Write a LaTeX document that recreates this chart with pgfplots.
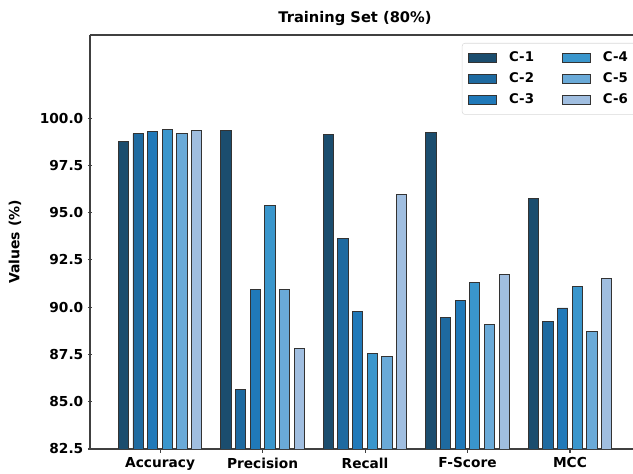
\documentclass[border=0pt]{standalone}
\usepackage{pgfplots}
\pgfplotsset{compat=1.18}
\usepackage{fontspec}
\setmainfont{DejaVu Sans}
\definecolor{c1}{HTML}{1B4D6E}
\definecolor{c2}{HTML}{1E6AA0}
\definecolor{c3}{HTML}{2079B9}
\definecolor{c4}{HTML}{3A96CC}
\definecolor{c5}{HTML}{6AAAD8}
\definecolor{c6}{HTML}{A0BEE0}
\definecolor{edge}{HTML}{333333}
\begin{document}
\begin{tikzpicture}[x=0.75pt,y=0.75pt]
\path[use as bounding box] (-90,-25) rectangle (543,449);
\begin{axis}[
  scale only axis,
  width=407.25pt, height=310.5pt,
  ybar,
  bar width=0.1,
  xmin=-0.684, xmax=4.615,
  ymin=82.5, ymax=104.4,
  xtick={0,1,2,3,4},
  xticklabels={Accuracy,Precision,Recall,F-Score,MCC},
  ytick={82.5,85,87.5,90,92.5,95,97.5,100},
  yticklabel style={/pgf/number format/.cd,fixed,fixed zerofill,precision=1},
  /pgf/number format/assume math mode=true,
  ticklabel style={font=\bfseries\fontsize{10.3}{12}\selectfont},
  tick align=outside,
  tick pos=left,
  major tick length=3pt,
  axis x line=box,
  axis y line=left,
  axis line style={-, draw=black!75, line width=0.8pt},
  tick style={black!75, line width=0.8pt},
  ylabel={\bfseries Values (\%)},
  ylabel style={font=\fontsize{10.5}{12}\selectfont, at={(rel axis cs:0,0.5)}, anchor=south, yshift=48pt},
  title={\bfseries Training Set (80\%)},
  title style={font=\fontsize{11}{13}\selectfont, at={(rel axis cs:0.488,1)}, anchor=south, yshift=-2.5pt},
  legend columns=2,
  legend style={at={(rel axis cs:0.685,1)}, anchor=north west, yshift=-6pt,
    draw=black!15, rounded corners=2pt, font=\bfseries\fontsize{10}{12}\selectfont,
    /tikz/every even column/.append style={column sep=18pt},
    /tikz/every odd column/.append style={column sep=6pt},
    row sep=2.8pt, inner sep=4.5pt,
    nodes={inner xsep=3pt}},
  legend cell align=left,
  legend image code/.code={\draw[#1, draw=edge, line width=0.7pt, sharp corners] (0pt,-3.6pt) rectangle (21pt,3.6pt);},
  every axis plot/.append style={draw=edge, line width=0.7pt},
]
\addplot[fill=c1, bar shift=-0.3575] coordinates {(0,98.76) (1,99.34) (2,99.13) (3,99.24) (4,95.73)};
\addlegendentry{C-1}
\addplot[fill=c4, bar shift=0.0715] coordinates {(0,99.39) (1,95.37) (2,87.53) (3,91.32) (4,91.11)};
\addlegendentry{C-4}
\addplot[fill=c2, bar shift=-0.2145] coordinates {(0,99.18) (1,85.66) (2,93.65) (3,89.47) (4,89.22)};
\addlegendentry{C-2}
\addplot[fill=c5, bar shift=0.2145] coordinates {(0,99.20) (1,90.95) (2,87.37) (3,89.10) (4,88.74)};
\addlegendentry{C-5}
\addplot[fill=c3, bar shift=-0.0715] coordinates {(0,99.31) (1,90.95) (2,89.75) (3,90.35) (4,89.96)};
\addlegendentry{C-3}
\addplot[fill=c6, bar shift=0.3575] coordinates {(0,99.34) (1,87.81) (2,95.98) (3,91.71) (4,91.50)};
\addlegendentry{C-6}
\end{axis}
\end{tikzpicture}
\end{document}
